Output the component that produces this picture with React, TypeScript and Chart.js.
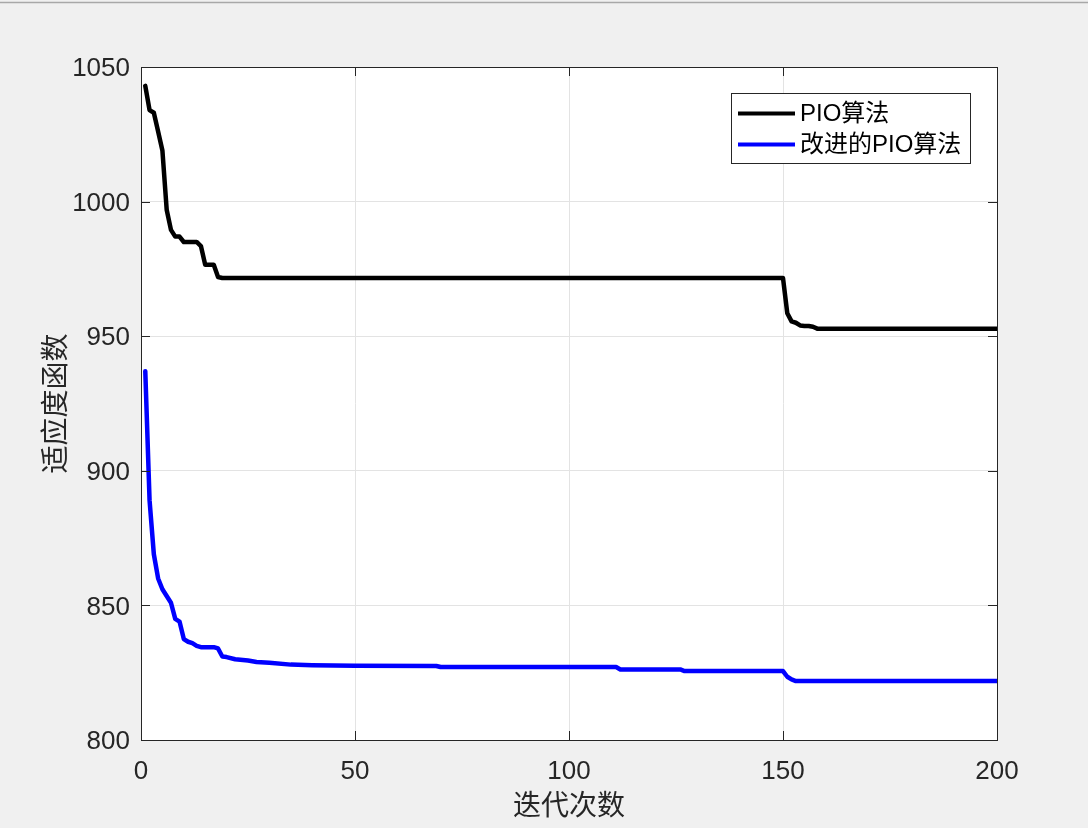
import React, { useEffect, useRef } from "react";
import { Chart, registerables } from "chart.js";

Chart.register(...registerables);

// ---- Data ----
const seriesLabels = ["PIO算法", "改进的PIO算法"];

const pioX = [1, 2, 3, 4, 5, 6, 7, 8, 9, 10, 11, 12, 13, 14, 15, 16, 17, 18, 19, 150, 151, 152, 153, 154, 155, 156, 157, 158, 200];
const pioY = [1043, 1034, 1033, 1026, 1019, 997, 989.5, 987, 987, 985, 985, 985, 985, 983.5, 976.5, 976.5, 976.5, 972, 971.6, 971.6, 958.5, 955.5, 955, 954, 953.8, 953.8, 953.5, 952.8, 952.8];

const ipioX = [1, 2, 3, 4, 5, 6, 7, 8, 9, 10, 11, 12, 13, 14, 15, 16, 17, 18, 19, 20, 22, 25, 27, 30, 35, 40, 50, 69, 70, 111, 112, 126, 127, 150, 151, 152, 153, 200];
const ipioY = [937, 889, 869, 860, 856, 853.5, 851, 845, 844, 837.5, 836.5, 836, 835, 834.5, 834.5, 834.5, 834.5, 834, 831, 830.8, 830, 829.5, 829, 828.7, 828, 827.8, 827.6, 827.5, 827.1, 827.1, 826.2, 826.2, 825.6, 825.6, 823.5, 822.5, 821.9, 821.9];

const xTicksStep = 50;
const xMin = 0;
const xMax = 200;
const yMin = 800;
const yMax = 1050;
const yTicksStep = 50;

const xTitle = "迭代次数";
const yTitle = "适应度函数";

const colors = ["#000000", "#0000ff"];

const latin = "'Liberation Sans', Arial, Helvetica, sans-serif";
const cjk = "'Noto Sans CJK SC', 'Liberation Sans', sans-serif";
const legendFont = "'Liberation Sans', 'Noto Sans CJK SC', sans-serif";

const framePlugin = {
  id: "matlabFrame",
  beforeDraw(chart: any) {
    const { ctx, chartArea: a, width, height } = chart;
    ctx.save();
    ctx.fillStyle = "#f0f0f0";
    ctx.fillRect(0, 0, width, height);
    ctx.strokeStyle = "#a8a8a8";
    ctx.lineWidth = 1.5;
    ctx.beginPath();
    ctx.moveTo(0, 2.5);
    ctx.lineTo(width, 2.5);
    ctx.stroke();
    ctx.fillStyle = "#ffffff";
    ctx.fillRect(a.left, a.top, a.right - a.left, a.bottom - a.top);
    ctx.restore();
  },
  afterDraw(chart: any) {
    const { ctx, chartArea: a, scales } = chart;
    ctx.save();
    ctx.strokeStyle = "#262626";
    ctx.lineWidth = 1;
    ctx.strokeRect(Math.round(a.left) + 0.5, Math.round(a.top) + 0.5, Math.round(a.right - a.left), Math.round(a.bottom - a.top));
    const tl = 9;
    ctx.beginPath();
    scales.x.ticks.forEach((t: any) => {
      const px = Math.round(scales.x.getPixelForValue(t.value)) + 0.5;
      ctx.moveTo(px, a.bottom);
      ctx.lineTo(px, a.bottom - tl);
      ctx.moveTo(px, a.top);
      ctx.lineTo(px, a.top + tl);
    });
    scales.y.ticks.forEach((t: any) => {
      const py = Math.round(scales.y.getPixelForValue(t.value)) + 0.5;
      ctx.moveTo(a.left, py);
      ctx.lineTo(a.left + tl, py);
      ctx.moveTo(a.right, py);
      ctx.lineTo(a.right - tl, py);
    });
    ctx.stroke();

    // legend
    const bx = 731.5, by = 93.5, bw = 239, bh = 70;
    ctx.fillStyle = "#ffffff";
    ctx.fillRect(bx, by, bw, bh);
    ctx.strokeStyle = "#262626";
    ctx.lineWidth = 1;
    ctx.strokeRect(bx, by, bw, bh);
    const rows = [113.5, 144.5];
    chart.data.datasets.forEach((ds: any, i: number) => {
      ctx.strokeStyle = ds.borderColor;
      ctx.lineWidth = 4;
      ctx.beginPath();
      ctx.moveTo(738, rows[i]);
      ctx.lineTo(795, rows[i]);
      ctx.stroke();
      ctx.fillStyle = "#000000";
      ctx.font = `24px ${legendFont}`;
      ctx.textBaseline = "middle";
      ctx.textAlign = "left";
      ctx.fillText(ds.label, 800, rows[i] + 1);
    });
    ctx.restore();
  },
};

const plainTick = (v: any) => String(v);

export default function App() {
  const ref = useRef<HTMLCanvasElement | null>(null);

  useEffect(() => {
    if (!ref.current) return;
    const chart = new Chart(ref.current, {
      type: "line",
      data: {
        datasets: [
          {
            label: seriesLabels[0],
            data: pioX.map((x, i) => ({ x, y: pioY[i] })),
            borderColor: colors[0],
            borderWidth: 4.5,
            pointRadius: 0,
            tension: 0,
            borderJoinStyle: "round",
            borderCapStyle: "round",
            fill: false,
          },
          {
            label: seriesLabels[1],
            data: ipioX.map((x, i) => ({ x, y: ipioY[i] })),
            borderColor: colors[1],
            borderWidth: 4.5,
            pointRadius: 0,
            tension: 0,
            borderJoinStyle: "round",
            borderCapStyle: "round",
            fill: false,
          },
        ],
      },
      options: {
        responsive: false,
        animation: false,
        layout: { padding: { left: 0, top: 67, right: 91, bottom: 0 } },
        plugins: {
          legend: { display: false },
          tooltip: { enabled: false },
        },
        scales: {
          x: {
            type: "linear",
            min: xMin,
            max: xMax,
            ticks: {
              stepSize: xTicksStep,
              font: { family: latin, size: 26 },
              color: "#262626",
              padding: 16,
              maxRotation: 0,
              callback: plainTick,
            },
            grid: { color: "#e3e3e3", drawTicks: false },
            border: { display: false },
            title: {
              display: true,
              text: xTitle,
              font: { family: cjk, size: 28 },
              color: "#262626",
              padding: { top: 0, bottom: 7 },
            },
            afterFit: (s: any) => {
              s.height = 88;
            },
          },
          y: {
            type: "linear",
            min: yMin,
            max: yMax,
            ticks: {
              stepSize: yTicksStep,
              font: { family: latin, size: 26 },
              color: "#262626",
              padding: 11,
              labelOffset: 2,
              callback: plainTick,
            },
            grid: { color: "#e3e3e3", drawTicks: false },
            border: { display: false },
            title: {
              display: true,
              text: yTitle,
              font: { family: cjk, size: 28 },
              color: "#262626",
              padding: { top: 38, bottom: 0 },
            },
            afterFit: (s: any) => {
              s.width = 141;
            },
          },
        },
      },
      plugins: [framePlugin],
    } as any);
    return () => chart.destroy();
  }, []);

  return (
    <div style={{ position: "absolute", left: 0, top: 0, width: 1088, height: 828, background: "#f0f0f0" }}>
      <canvas ref={ref} width={1088} height={828} style={{ display: "block", width: 1088, height: 828 }} />
    </div>
  );
}
